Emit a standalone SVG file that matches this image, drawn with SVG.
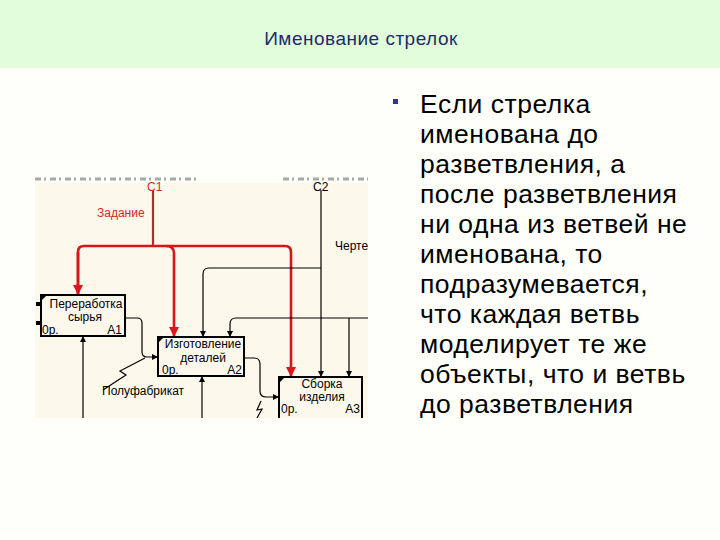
<svg xmlns="http://www.w3.org/2000/svg" width="720" height="540" viewBox="0 0 720 540">
<style>
.title{font-family:"Liberation Sans",Arial,sans-serif;font-size:19px;letter-spacing:0.5px;fill:#1f2a6b}
.body{font-family:"Liberation Sans",Arial,sans-serif;font-size:26.5px;letter-spacing:0.5px;fill:#000}
.lbl{font-family:"Liberation Sans",Arial,sans-serif;font-size:12px;fill:#000}
.red{fill:#cc2a2a}
.box{fill:#fdf8ec;stroke:#000;stroke-width:2}
.wire{fill:none;stroke:#000;stroke-width:1.2}
.rwire{fill:none;stroke:#d8141c;stroke-width:2.6}
.mid{text-anchor:middle}
.end{text-anchor:end}
</style>
<defs>
<marker id="ab" viewBox="0 0 10 10" refX="10" refY="5" markerWidth="6" markerHeight="6" markerUnits="userSpaceOnUse" orient="auto"><path d="M0,0 L10,5 L0,10 z" fill="#000"/></marker>
<marker id="ar" viewBox="0 0 10 10" refX="10" refY="5" markerWidth="10" markerHeight="10" markerUnits="userSpaceOnUse" orient="auto"><path d="M0,0 L10,5 L0,10 z" fill="#e0141c"/></marker>
<clipPath id="clip"><rect x="35" y="177" width="333" height="241"/></clipPath>
</defs>
<rect x="0" y="0" width="720" height="540" fill="#fffffa"/>
<rect x="0" y="0" width="720" height="68" fill="#e1fdd9"/>
<text class="title mid" x="361" y="45">Именование стрелок</text>

<g id="diagram" clip-path="url(#clip)">
<rect x="35" y="183" width="333" height="235" fill="#fdf8ec"/>
<path d="M35,179 H200 M283,179 H368" stroke="#a8a8a8" stroke-width="3" stroke-dasharray="6 3 2 4" fill="none"/>

<g id="connectors">
<path d="M153,190 V246" stroke="#a8342c" stroke-width="2.2" fill="none"/>
<path class="rwire" d="M78,295 V252 Q78,246 84,246 H285 Q291,246 291,252 V377" marker-end="url(#ar)"/>
<path class="rwire" d="M78,252 V295" marker-end="url(#ar)"/>
<path class="rwire" d="M166,246 Q174,246 174,253 V337" marker-end="url(#ar)"/>
<path class="wire" d="M321,190 V377" marker-end="url(#ab)"/>
<path class="wire" d="M321,268 H209 Q203,268 203,274 V337" marker-end="url(#ab)"/>
<path class="wire" d="M368,318 H236 Q230,318 230,324 V337" marker-end="url(#ab)"/>
<path class="wire" d="M349,318 V377" marker-end="url(#ab)"/>
<path class="wire" d="M125,318 H137 Q142,318 142,323 V352 Q142,357 147,357 H158" marker-end="url(#ab)"/>
<path class="wire" d="M145,358 L120,371 L126,375 L103,390"/>
<path class="wire" d="M244,358 H254 Q260,358 260,364 V391 Q260,397 266,397 H279" marker-end="url(#ab)"/>
<path class="wire" d="M261,401 L257,410 L262,409 L257,418"/>
<path class="wire" d="M83,418 V336" marker-end="url(#ab)"/>
<path class="wire" d="M202,418 V376" marker-end="url(#ab)"/>
</g>

<text class="lbl red" x="147" y="191" font-size="11">C1</text>
<text class="lbl" x="313" y="191" font-size="11">C2</text>
<text class="lbl red" x="97" y="217">Задание</text>
<text class="lbl" x="335" y="250">Чертеж</text>
<text class="lbl" x="102" y="395">Полуфабрикат</text>

<g id="A1">
<rect class="box" x="41" y="295" width="84" height="41"/>
<path d="M42,296 h4 l-4,4 z" fill="#000"/>
<rect x="36" y="302" width="5" height="4" fill="#000"/>
<rect x="36" y="321" width="5" height="4" fill="#000"/>
<text class="lbl mid" x="86" y="308">Переработка</text>
<text class="lbl mid" x="85" y="321">сырья</text>
<text class="lbl" x="42" y="334">0р.</text>
<text class="lbl end" x="122" y="334">A1</text>
</g>
<g id="A2">
<rect class="box" x="158" y="337" width="86" height="39"/>
<path d="M159,338 h4 l-4,4 z" fill="#000"/>
<text class="lbl mid" x="203" y="348">Изготовление</text>
<text class="lbl mid" x="203" y="362">деталей</text>
<text class="lbl" x="162" y="374">0р.</text>
<text class="lbl end" x="242" y="374">A2</text>
</g>
<g id="A3">
<rect class="box" x="279" y="377" width="83" height="50"/>
<path d="M280,378 h4 l-4,4 z" fill="#000"/>
<text class="lbl mid" x="322" y="388">Сборка</text>
<text class="lbl mid" x="322" y="401">изделия</text>
<text class="lbl" x="281" y="413">0р.</text>
<text class="lbl end" x="360" y="413">A3</text>
</g>
</g>

<g id="bullet">
<rect x="393" y="99" width="5" height="5" fill="#33339a"/>
<text class="body" x="420">
<tspan x="420" y="113">Если стрелка</tspan>
<tspan x="420" y="143">именована до</tspan>
<tspan x="420" y="173">разветвления, а</tspan>
<tspan x="420" y="203">после разветвления</tspan>
<tspan x="420" y="233">ни одна из ветвей не</tspan>
<tspan x="420" y="263">именована, то</tspan>
<tspan x="420" y="293">подразумевается,</tspan>
<tspan x="420" y="323">что каждая ветвь</tspan>
<tspan x="420" y="353">моделирует те же</tspan>
<tspan x="420" y="383">объекты, что и ветвь</tspan>
<tspan x="420" y="413">до разветвления</tspan>
</text>
</g>
</svg>
